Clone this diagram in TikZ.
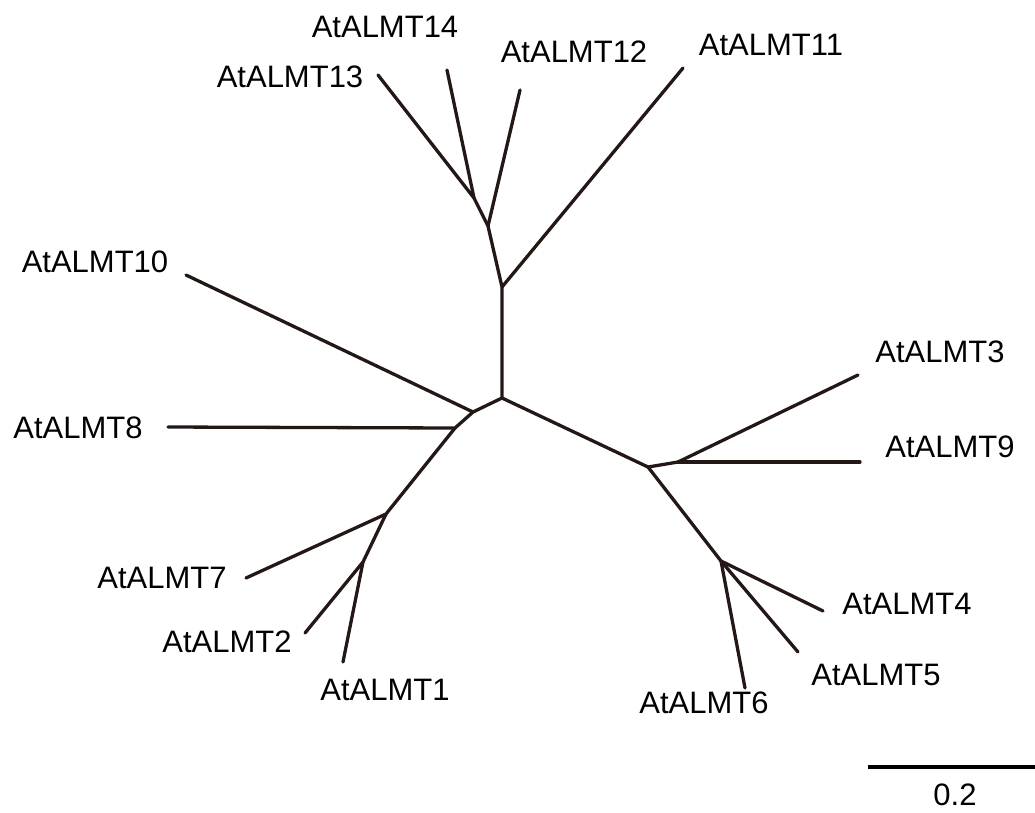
\documentclass[tikz,border=0pt]{standalone}
\usepackage{fontspec}
\setmainfont{Liberation Sans}
\definecolor{branch}{HTML}{231815}
\begin{document}
\begin{tikzpicture}[x=1pt,y=-1pt,
  edge/.style={draw=branch,line width=3.3pt,line cap=round,line join=round},
  leaf/.style={font=\fontsize{31}{37}\selectfont,inner sep=0pt,anchor=center}]
\useasboundingbox (0,0) rectangle (1035,812);

% internal vertices
\coordinate (R) at (502,398);
\coordinate (A) at (502,287);
\coordinate (B) at (488,226);
\coordinate (C) at (474,198);
\coordinate (D) at (473,412);
\coordinate (E) at (455,428);
\coordinate (F) at (386,514);
\coordinate (G) at (363,562);
\coordinate (H) at (648,467);
\coordinate (I) at (678,462);
\coordinate (J) at (721,561);

% branch tips
\coordinate (t13) at (378,75);
\coordinate (t14) at (447,70);
\coordinate (t12) at (520,90);
\coordinate (t11) at (683,68);
\coordinate (t10) at (186,275);
\coordinate (t8) at (168,427);
\coordinate (t7) at (246,578);
\coordinate (t2) at (305,633);
\coordinate (t1) at (343,662);
\coordinate (t3) at (858,375);
\coordinate (t9) at (860,462);
\coordinate (t4) at (823,611);
\coordinate (t5) at (798,652);
\coordinate (t6) at (745,688);

% tree branches
\draw[edge] (R) -- (A) -- (B) -- (C) -- (t13);
\draw[edge] (C) -- (t14);
\draw[edge] (B) -- (t12);
\draw[edge] (A) -- (t11);
\draw[edge] (R) -- (D) -- (t10);
\draw[edge] (D) -- (E) -- (t8);
\draw[edge] (E) -- (F) -- (t7);
\draw[edge] (F) -- (G) -- (t2);
\draw[edge] (G) -- (t1);
\draw[edge] (R) -- (H) -- (I) -- (t3);
\draw[edge] (I) -- (t9);
\draw[edge] (H) -- (J) -- (t4);
\draw[edge] (J) -- (t5);
\draw[edge] (J) -- (t6);

% labels
\node[leaf] (l13) at (290,77) {AtALMT13};
\node[leaf] (l14) at (385,27) {AtALMT14};
\node[leaf] (l12) at (574,52) {AtALMT12};
\node[leaf] (l11) at (771,45) {AtALMT11};
\node[leaf] (l10) at (95,262) {AtALMT10};
\node[leaf] (l8) at (78,428) {AtALMT8};
\node[leaf] (l7) at (162,578) {AtALMT7};
\node[leaf] (l2) at (227,642) {AtALMT2};
\node[leaf] (l1) at (385,690) {AtALMT1};
\node[leaf] (l3) at (940,352) {AtALMT3};
\node[leaf] (l9) at (950,447) {AtALMT9};
\node[leaf] (l4) at (907,604) {AtALMT4};
\node[leaf] (l5) at (876,675) {AtALMT5};
\node[leaf] (l6) at (704,703) {AtALMT6};

% scale bar
\coordinate (s0) at (868,767);
\coordinate (s1) at (1035,767);
\draw[line width=4pt,black] (s0) -- (s1);
\node[leaf] (sl) at (955,795) {0.2};
\end{tikzpicture}
\end{document}
